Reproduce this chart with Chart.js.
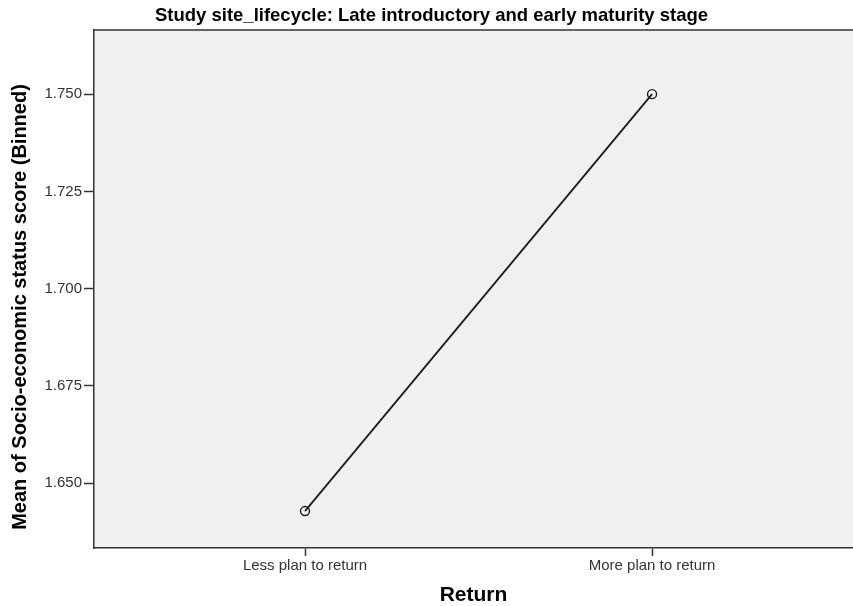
<!DOCTYPE html>
<html>
<head>
<meta charset="utf-8">
<script src="https://cdn.jsdelivr.net/npm/chart.js@4.4.3/dist/chart.umd.min.js"></script>
<style>
  html, body { margin: 0; padding: 0; background: #fff; }
  #wrap { width: 853px; height: 606px; }
</style>
</head>
<body>
<div id="wrap"><canvas id="chart" width="853" height="606"></canvas></div>
<script>
// chart values
const categories = ['Less plan to return', 'More plan to return'];
const means = [1.6428, 1.7500];
const yTicks = [1.650, 1.675, 1.700, 1.725, 1.750];

const titleText = 'Study site_lifecycle: Late introductory and early maturity stage';
const xTitle = 'Return';
const yTitle = 'Mean of Socio-economic status score (Binned)';

const FONT = 'Liberation Sans, Arial, sans-serif';

// plot area background, top border and the y axis title
const plotFrame = {
    id: 'plotFrame',
    beforeDraw(chart) {
        const { ctx, chartArea: a } = chart;
        ctx.save();
        ctx.fillStyle = '#f0f0f0';
        ctx.fillRect(a.left, a.top, a.right - a.left, a.bottom - a.top);
        ctx.strokeStyle = '#333';
        ctx.lineWidth = 1.5;
        ctx.beginPath();
        ctx.moveTo(a.left, a.top);
        ctx.lineTo(a.right, a.top);
        ctx.stroke();
        ctx.restore();
    },
    afterDraw(chart) {
        const { ctx, chartArea: a } = chart;
        ctx.save();
        ctx.translate(20.5, (a.top + a.bottom) / 2 + 18);
        ctx.rotate(-Math.PI / 2);
        ctx.font = 'bold 20px ' + FONT;
        ctx.fillStyle = '#000';
        ctx.textAlign = 'center';
        ctx.textBaseline = 'middle';
        ctx.fillText(yTitle, 0, 0);
        ctx.restore();
    }
};

new Chart(document.getElementById('chart'), {
    type: 'line',
    data: {
        datasets: [{
            data: categories.map((c, i) => ({ x: i, y: means[i] })),
            borderColor: '#1a1a1a',
            borderWidth: 1.8,
            pointRadius: 4.5,
            pointBorderWidth: 1.4,
            pointBorderColor: '#1a1a1a',
            pointBackgroundColor: 'rgba(0,0,0,0)',
            fill: false,
            tension: 0,
        }]
    },
    options: {
        responsive: false,
        animation: false,
        layout: { padding: { left: 10, right: 0, top: 0, bottom: 0 }, autoPadding: false },
        plugins: {
            legend: { display: false },
            tooltip: { enabled: false },
            title: {
                display: true,
                text: titleText,
                color: '#000',
                font: { family: FONT, size: 18.5, weight: 'bold' },
                padding: { top: 5, bottom: 2.8 },
            },
        },
        scales: {
            x: {
                type: 'linear',
                min: -0.608,
                max: 1.579,
                afterBuildTicks: (scale) => { scale.ticks = categories.map((c, i) => ({ value: i })); },
                afterFit: (scale) => { scale.height = 58; },
                ticks: {
                    callback: (v) => categories[v],
                    color: '#333',
                    font: { family: FONT, size: 15 },
                    padding: 1,
                    maxRotation: 0,
                },
                grid: { drawOnChartArea: false, tickLength: 8, color: '#333', tickWidth: 1.5 },
                border: { color: '#333', width: 1.5 },
                title: {
                    display: true,
                    text: xTitle,
                    color: '#000',
                    font: { family: FONT, size: 21, weight: 'bold', lineHeight: 1 },
                    padding: { top: 0, bottom: 0 },
                },
            },
            y: {
                min: 1.6333,
                max: 1.7665,
                afterBuildTicks: (scale) => { scale.ticks = yTicks.map(v => ({ value: v })); },
                afterFit: (scale) => { scale.width = 84; },
                ticks: {
                    callback: (v) => v.toFixed(3),
                    color: '#333',
                    font: { family: FONT, size: 15 },
                    padding: 2,
                },
                grid: { drawOnChartArea: false, tickLength: 10, color: '#333', tickWidth: 1.5 },
                border: { color: '#333', width: 1.5 },
                title: { display: false },
            },
        },
    },
    plugins: [plotFrame],
});
</script>
</body>
</html>
